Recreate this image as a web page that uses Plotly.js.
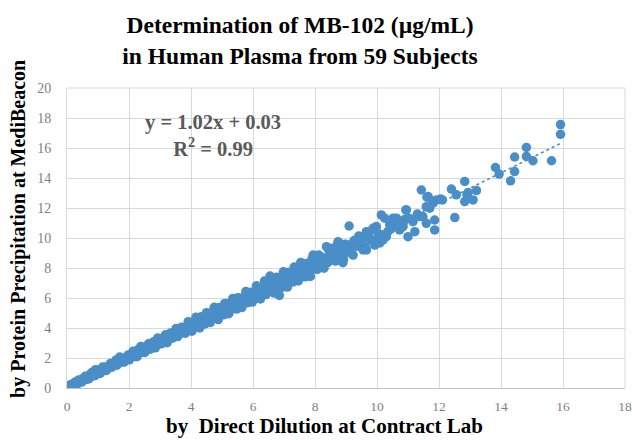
<!DOCTYPE html>
<html>
<head>
<meta charset="utf-8">
<script src="https://cdn.plot.ly/plotly-3.0.1.min.js"></script>
<style>html,body{margin:0;padding:0;background:#fff;}#chart{width:632px;height:440px;}</style>
</head>
<body>
<div id="chart"></div>
<script>
// Values (µg/mL)
const xLow = [0.02,0.05,0.08,0.10,0.13,0.16,0.20,0.22,0.25,0.28,0.31,0.35,0.38,0.41,0.45,0.48,0.52,0.55,0.59,0.62,0.66,0.70,0.73,0.77,0.80,0.84,0.88,0.92,0.95,0.99,1.03,1.07,1.10,1.15,1.19,1.23,1.27,1.31,1.36,1.40,1.44,1.48,1.53,1.57,1.61,1.66,1.70,1.75,1.79,1.84,1.88,1.93,1.97];
const yLow = [0.07,0.05,0.16,0.09,0.24,0.13,0.26,0.17,0.38,0.30,0.41,0.29,0.54,0.40,0.53,0.40,0.65,0.56,0.78,0.57,0.75,0.60,0.88,0.76,1.03,0.89,0.81,1.22,1.10,0.94,1.22,0.97,1.20,1.40,1.16,1.38,1.17,1.41,1.37,1.63,1.38,1.62,1.57,1.85,1.52,1.78,2.06,1.72,1.98,1.73,2.00,1.94,2.20];

const xTwoFour = [2.01,2.05,2.09,2.13,2.17,2.21,2.26,2.30,2.34,2.38,2.42,2.46,2.51,2.55,2.59,2.63,2.68,2.72,2.76,2.80,2.85,2.89,2.93,2.97,3.01,3.06,3.10,3.14,3.18,3.23,3.27,3.31,3.35,3.40,3.44,3.48,3.52,3.57,3.61,3.65,3.69,3.74,3.78,3.82,3.86,3.91,3.95,3.99];
const yTwoFour = [1.88,2.22,2.11,2.45,2.09,2.33,2.09,2.56,2.34,2.76,2.38,2.60,2.37,2.77,2.64,2.95,2.58,2.88,2.75,3.09,2.68,3.00,3.34,2.92,3.20,2.95,3.35,3.17,3.55,3.02,3.41,3.29,3.67,3.32,3.66,3.54,3.97,3.43,3.78,3.65,4.05,3.68,4.03,3.65,4.00,4.42,3.86,4.20];

const xFourSix = [4.03,4.07,4.11,4.16,4.20,4.24,4.28,4.33,4.37,4.41,4.45,4.50,4.54,4.58,4.62,4.67,4.71,4.75,4.79,4.84,4.88,4.92,4.96,5.01,5.05,5.09,5.13,5.18,5.22,5.26,5.30,5.35,5.39,5.43,5.47,5.52,5.56,5.60,5.64,5.69,5.73,5.77,5.81,5.86,5.90,5.94,5.98];
const yFourSix = [3.79,4.38,4.12,4.72,4.06,4.43,4.00,4.75,4.44,4.68,4.27,5.02,4.51,4.75,4.36,5.04,4.75,5.38,4.70,5.09,4.56,5.37,5.07,5.32,4.88,5.64,5.14,5.37,4.95,5.68,5.26,5.97,5.48,5.72,5.26,6.02,5.50,5.84,5.36,6.05,5.77,6.44,5.68,6.06,5.90,6.39,5.73];

const xSixEight = [6.03,6.07,6.11,6.16,6.20,6.24,6.29,6.33,6.37,6.42,6.46,6.50,6.55,6.59,6.63,6.68,6.72,6.76,6.81,6.85,6.89,6.94,6.98,7.02,7.07,7.11,7.15,7.20,7.24,7.28,7.33,7.37,7.41,7.46,7.50,7.54,7.59,7.63,7.68,7.72,7.76,7.81,7.85,7.90,7.94];
const ySixEight = [6.33,5.97,6.81,6.26,6.65,5.94,6.55,6.29,7.13,6.23,6.82,6.56,7.46,6.45,7.14,6.34,6.93,7.38,6.78,6.17,7.31,6.71,7.75,7.09,7.39,6.73,7.72,7.12,7.51,7.06,8.06,7.40,7.89,7.14,7.73,8.37,7.47,8.01,7.41,8.30,7.85,8.10,7.44,8.59,7.93];

const xEightTen = [8.02,8.07,8.12,8.18,8.23,8.29,8.35,8.41,8.47,8.53,8.60,8.66,8.72,8.79,8.85,8.92,8.98,9.05,9.12,9.19,9.26,9.33,9.41,9.48,9.56,9.64,9.72,9.80,9.89,9.97,7.94,8.69,9.12,9.55,7.61,8.15,8.90,8.80,8.42,9.44,9.87,9.66,9.98,9.10,9.87,9.55,9.39,9.12,8.58,8.37,8.74,7.72,8.47,9.23,9.66,9.93];
const yEightTen = [8.41,7.91,8.86,8.27,8.72,7.99,8.65,8.36,9.12,8.68,9.05,8.46,9.52,8.84,9.21,8.58,9.59,9.06,9.38,8.95,9.83,9.45,10.13,9.40,9.93,9.36,10.24,9.88,10.57,9.85,8.86,8.75,9.20,9.20,8.08,8.31,8.35,9.65,9.31,9.75,9.87,10.42,10.76,10.80,10.65,10.09,9.75,9.53,9.31,9.42,9.75,7.52,8.53,8.86,9.20,9.53];

const xTenTwelve = [10.09,10.14,10.52,10.30,10.95,11.00,11.22,11.86,11.70,11.81,11.48,10.84,11.59,11.16,10.73,11.43,11.61,10.63,10.41,10.73,10.19,11.38,10.25,10.93,11.59,11.65,11.81,11.86,10.19,10.35,10.84,11.92,12.05,10.05,10.45,10.60,11.05,11.30,10.90];
const yTenTwelve = [9.67,11.54,11.32,10.09,11.87,10.09,10.42,10.54,11.99,12.32,11.43,10.76,10.98,11.09,11.09,13.20,12.72,11.32,10.87,10.54,10.20,11.43,11.32,11.87,12.09,12.76,12.43,11.20,9.87,10.42,10.98,12.54,12.60,10.30,10.60,10.95,11.30,11.60,11.25];

const xHigh = [15.92,15.92,15.63,14.82,14.82,15.03,14.44,14.44,14.31,13.82,13.94,12.83,12.40,12.11,12.56,12.94,12.83,13.10,13.21,12.51,12.90];
const yHigh = [17.56,16.91,15.15,16.04,15.44,15.15,15.40,14.43,13.81,14.70,14.26,13.77,13.26,12.54,12.88,13.03,12.43,12.54,13.16,11.36,12.90];

const xTicks = [0,2,4,6,8,10,12,14,16,18];
const yTicks = [0,2,4,6,8,10,12,14,16,18,20];

const titleText = "<b>Determination of MB-102 (µg/mL)<br>in Human Plasma from 59 Subjects</b>";
const xTitle = "<b>by\u00A0\u00A0Direct Dilution at Contract Lab</b>";
const yTitle = "<b>by Protein Precipitation at MediBeacon</b>";
const eqText = "<b>y = 1.02x + 0.03<br>R<sup>2</sup> = 0.99</b>";

const xs = [].concat(xLow, xTwoFour, xFourSix, xSixEight, xEightTen, xTenTwelve, xHigh);
const ys = [].concat(yLow, yTwoFour, yFourSix, ySixEight, yEightTen, yTenTwelve, yHigh);

// least-squares linear trendline computed from the data
const n = xs.length;
let sx=0, sy=0, sxx=0, sxy=0;
for (let i=0;i<n;i++){ sx+=xs[i]; sy+=ys[i]; sxx+=xs[i]*xs[i]; sxy+=xs[i]*ys[i]; }
const slope = (n*sxy - sx*sy)/(n*sxx - sx*sx);
const intercept = (sy - slope*sx)/n;
const xMin = Math.min.apply(null, xs), xMax = Math.max.apply(null, xs);
const trendX = [xMin, xMax];
const trendY = trendX.map(v => slope*v + intercept);

const blue = '#4a8ec8';
const serif = 'Liberation Serif, Times New Roman, serif';

const traces = [
  {x: trendX, y: trendY, mode: 'lines', type: 'scatter',
   line: {color: blue, width: 1.6, dash: 'dot'}, hoverinfo: 'skip'},
  {x: xs, y: ys, mode: 'markers', type: 'scatter',
   marker: {color: blue, size: 9.5, line: {width: 0}}}
];

const layout = {
  width: 632, height: 440,
  margin: {l: 67, r: 7, t: 88, b: 52},
  paper_bgcolor: '#fff', plot_bgcolor: '#fff',
  showlegend: false,
  title: {text: titleText, x: 0.4747, xref: 'container', xanchor: 'center',
          y: 0.925, yref: 'container', yanchor: 'middle',
          font: {family: serif, size: 23.5, color: '#000'}},
  xaxis: {range: [0, 18], tickvals: xTicks, ticktext: xTicks.map(String),
          showgrid: true, gridcolor: '#d9d9d9', gridwidth: 1,
          zeroline: false, showline: true, linecolor: '#c4c4c4', mirror: false,
          ticks: '', ticklabelstandoff: 6,
          tickfont: {family: serif, size: 13.5, color: '#7f7f7f'}, fixedrange: true},
  yaxis: {range: [0, 20], tickvals: yTicks, ticktext: yTicks.map(String),
          showgrid: true, gridcolor: '#d9d9d9', gridwidth: 1,
          zeroline: false, showline: true, linecolor: '#d9d9d9', mirror: false,
          ticks: '', ticklabelstandoff: 12,
          tickfont: {family: serif, size: 14, color: '#7f7f7f'}, fixedrange: true},
  shapes: [
    {type: 'line', xref: 'paper', yref: 'paper', x0: 0, x1: 1, y0: 1, y1: 1, line: {color: '#d9d9d9', width: 1}},
    {type: 'line', xref: 'paper', yref: 'paper', x0: 1, x1: 1, y0: 0, y1: 1, line: {color: '#d9d9d9', width: 1}}
  ],
  annotations: [
    {text: eqText, x: 4.7, y: 16.85, xref: 'x', yref: 'y', showarrow: false,
     xanchor: 'center', yanchor: 'middle', align: 'center', borderpad: 0,
     font: {family: serif, size: 20.5, color: '#595959'}},
    {text: xTitle, x: 0.4606, y: -0.126, xref: 'paper', yref: 'paper', showarrow: false,
     xanchor: 'center', yanchor: 'middle', borderpad: 0,
     font: {family: serif, size: 21, color: '#000'}},
    {text: yTitle, x: -0.088, y: 0.53, xref: 'paper', yref: 'paper', showarrow: false,
     textangle: -90, xanchor: 'center', yanchor: 'middle',
     font: {family: serif, size: 20, color: '#000'}}
  ]
};

Plotly.newPlot('chart', traces, layout, {displayModeBar: false, staticPlot: true});
</script>
</body>
</html>
